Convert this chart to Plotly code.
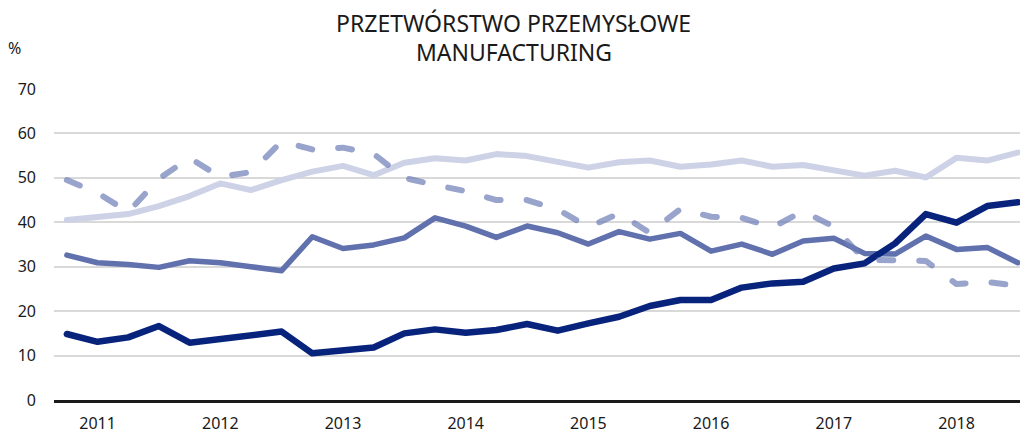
import plotly.graph_objects as go

quarters = list(range(32))
year_ticks = [1, 5, 9, 13, 17, 21, 25, 29]
year_labels = ["2011", "2012", "2013", "2014", "2015", "2016", "2017", "2018"]

navy = [14.85, 13.1, 14.1, 16.65, 12.9, 13.7, 14.85, 15.4,
        10.5, 11.25, 11.8, 15.0, 15.9, 15.15, 15.75, 17.1,
        15.6, 17.25, 18.75, 21.15, 22.5, 22.5, 25.3, 26.25,
        26.6, 29.6, 30.75, 35.25, 41.85, 39.9, 43.65, 44.5]
medium = [32.6, 30.9, 30.5, 29.85, 31.35, 30.9, 30.0, 29.1,
          36.75, 34.1, 34.9, 36.5, 41.0, 39.15, 36.6, 39.15,
          37.65, 35.1, 37.9, 36.2, 37.5, 33.5, 35.1, 32.8,
          35.8, 36.4, 33.0, 32.85, 36.9, 33.9, 34.35, 30.9]
light = [40.5, 41.1, 41.85, 43.65, 45.9, 48.75, 47.25, 49.5,
         51.4, 52.7, 50.6, 53.4, 54.4, 53.9, 55.35, 54.9,
         53.6, 52.3, 53.5, 53.9, 52.5, 53.0, 53.9, 52.5,
         52.9, 51.75, 50.5, 51.6, 50.1, 54.5, 53.9, 55.7]
dashed = [49.5, 46.6, 42.3, 49.8, 54.5, 50.2, 51.3, 58.2,
          56.4, 56.8, 55.4, 50.0, 48.4, 47.0, 45.0, 45.0,
          42.9, 38.9, 42.0, 37.65, 43.0, 41.25, 41.0, 38.85,
          42.5, 39.0, 31.6, 31.6, 31.3, 26.1, 26.55, 25.7]

title_lines = ["PRZETWÓRSTWO PRZEMYSŁOWE", "MANUFACTURING"]
unit_label = "%"

FONT = "Noto Sans"
fig = go.Figure()
fig.add_trace(go.Scatter(x=quarters, y=light, mode="lines",
                         line=dict(color="#cdd2e6", width=6), showlegend=False))
fig.add_trace(go.Scatter(x=quarters, y=medium, mode="lines",
                         line=dict(color="#6071ad", width=5.5), showlegend=False))
fig.add_trace(go.Scatter(x=quarters, y=navy, mode="lines",
                         line=dict(color="#08237c", width=6.5), showlegend=False))
fig.add_trace(go.Scatter(x=quarters, y=dashed, mode="lines",
                         line=dict(color="rgba(110,125,182,0.7)", width=6, dash="14px,26px"),
                         showlegend=False))

fig.update_layout(
    width=1022, height=439,
    margin=dict(l=54, r=2, t=89, b=39, autoexpand=False),
    paper_bgcolor="white", plot_bgcolor="white",
    font=dict(family=FONT, color="#1a1a1a", size=16),
    xaxis=dict(range=[-0.42, 31.07], tickvals=year_ticks, ticktext=year_labels,
               showgrid=False, zeroline=False, showline=True, automargin=False,
               linecolor="#1a1a1a", linewidth=3, ticks="", ticklabelstandoff=7,
               tickfont=dict(size=16)),
    yaxis=dict(range=[0, 70], tickvals=[0, 10, 20, 30, 40, 50, 60, 70],
               showgrid=True, gridcolor="#d9d9d9", gridwidth=2, automargin=False,
               zeroline=False, showline=False, ticks="", ticklabelstandoff=17,
               tickfont=dict(size=16)),
    annotations=[
        dict(text=title_lines[0], xref="paper", yref="paper", x=0.476, y=1.2138,
             xanchor="center", yanchor="middle", showarrow=False,
             font=dict(size=23, color="#1a1a1a")),
        dict(text=title_lines[1], xref="paper", yref="paper", x=0.476, y=1.119,
             xanchor="center", yanchor="middle", showarrow=False,
             font=dict(size=23, color="#1a1a1a")),
        dict(text=unit_label, xref="paper", yref="paper", x=-0.0404, y=1.1334,
             xanchor="center", yanchor="middle", showarrow=False,
             font=dict(size=16, color="#1a1a1a")),
    ],
)

post = """
document.body.style.margin='0';
var gd=document.getElementById('{plot_id}');
function rc(){gd.querySelectorAll('path.js-line').forEach(function(p){p.style.strokeLinecap='round';p.style.strokeLinejoin='round';});}
rc(); if(gd.on){gd.on('plotly_afterplot', rc);} setTimeout(rc, 50); setTimeout(rc, 300);
"""
fig.write_html("out.html", post_script=post, config={"displayModeBar": False})
